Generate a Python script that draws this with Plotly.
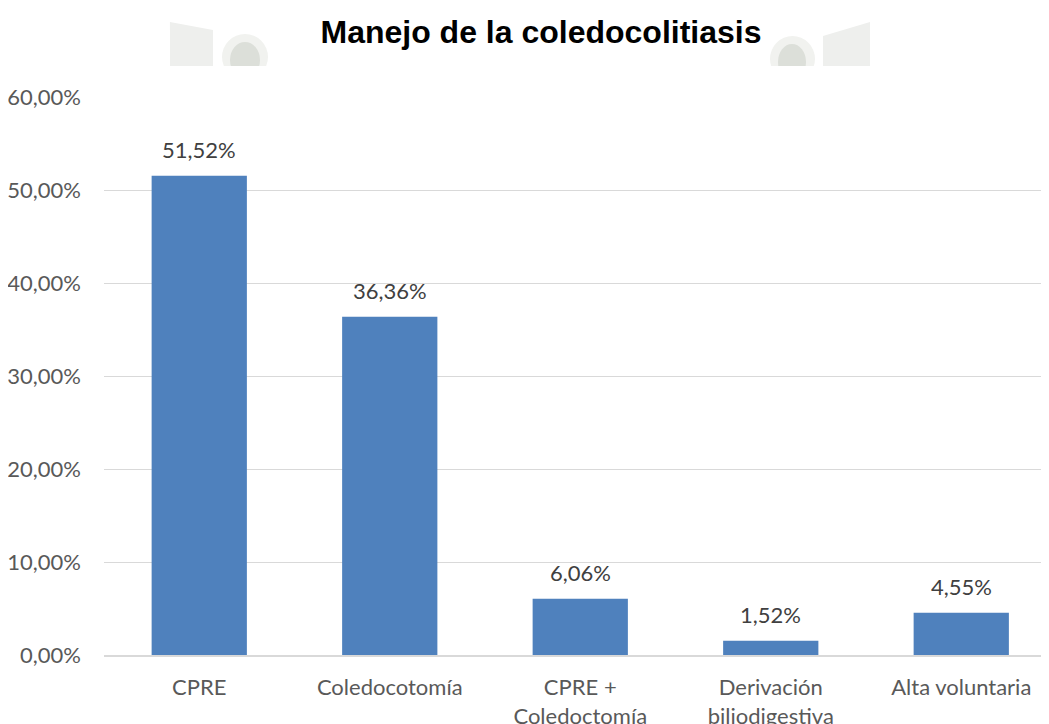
import plotly.graph_objects as go

categories = ["CPRE", "Coledocotomía", "CPRE +<br>Coledoctomía", "Derivación<br>biliodigestiva", "Alta voluntaria"]
values = [0.5152, 0.3636, 0.0606, 0.0152, 0.0455]
labels = ["51,52%", "36,36%", "6,06%", "1,52%", "4,55%"]
y_ticks = [0, 0.1, 0.2, 0.3, 0.4, 0.5, 0.6]
y_tick_text = ["0,00%", "10,00%", "20,00%", "30,00%", "40,00%", "50,00%", "60,00%"]

# page body has an 8px margin; figure coordinates are window coordinates minus 8
OFF = 8
W, H = 1049, 724
L, T = 104 - OFF, 97 - OFF
R = W - (1049 - OFF)
B = H - (655 - OFF)
pw, ph = W - L - R, H - T - B

def px(x):
    return (x - OFF - L) / pw

def py(y):
    return (H - B - (y - OFF)) / ph

FONT = "Lato, Open Sans, sans-serif"

fig = go.Figure()
fig.add_trace(go.Bar(
    x=list(range(len(categories))), y=values,
    marker=dict(color="#4f81bd", line=dict(width=0)),
    width=0.5,
))

for i, (v, t) in enumerate(zip(values, labels)):
    fig.add_annotation(x=i, y=v, text=t, showarrow=False, yanchor="middle", yshift=26,
                       font=dict(family=FONT, size=22, color="#404040"))

# faint watermark decorations behind title
shapes = []
def poly(pts, color):
    path = "M " + " L ".join(f"{px(x):.4f},{py(y):.4f}" for x, y in pts) + " Z"
    return dict(type="path", xref="paper", yref="paper", path=path, fillcolor=color, line=dict(width=0), layer="below")

def ell(x0, y0, x1, y1, color):
    return dict(type="circle", xref="paper", yref="paper", x0=px(x0), x1=px(x1), y0=py(y1), y1=py(y0),
                fillcolor=color, line=dict(width=0), layer="below")

shapes.append(poly([(170, 22), (213, 30), (213, 66), (170, 66)], "#eeefed"))
shapes.append(ell(222, 34, 268, 80, "#f1f2ef"))
shapes.append(ell(230, 42, 260, 78, "#dcdfd9"))
shapes.append(poly([(823, 36), (870, 22), (870, 66), (823, 66)], "#eeefed"))
shapes.append(ell(770, 36, 815, 82, "#f1f2ef"))
shapes.append(ell(778, 44, 806, 80, "#dcdfd9"))
shapes.append(dict(type="rect", xref="paper", yref="paper", x0=px(150), x1=px(900), y0=py(92), y1=py(66),
                   fillcolor="white", line=dict(width=0), layer="below"))
fig.update_layout(shapes=shapes)

fig.update_layout(
    width=W, height=H,
    margin=dict(l=L, r=R, t=T, b=B, autoexpand=False),
    paper_bgcolor="white", plot_bgcolor="rgba(0,0,0,0)",
    showlegend=False,
    title=dict(text="<b>Manejo de la coledocolitiasis</b>", x=px(541), xanchor="center", xref="paper",
               y=1 - (32 - OFF) / H, yanchor="middle",
               font=dict(family="Liberation Sans, Arial, sans-serif", size=32, color="black")),
    bargap=0.5,
)
fig.update_xaxes(
    tickmode="array", tickvals=list(range(len(categories))), ticktext=categories,
    range=[-0.5, -0.5 + pw / 190.5], automargin=False,
    showgrid=False, showline=True, linecolor="#d9d9d9", linewidth=2,
    ticks="", ticklabelstandoff=12,
    tickfont=dict(family=FONT, size=22, color="#595959"),
)
fig.update_yaxes(
    range=[0, 0.6], tickmode="array", tickvals=y_ticks, ticktext=y_tick_text, automargin=False,
    showgrid=True, gridcolor="#d9d9d9", gridwidth=1, zeroline=False,
    ticks="", ticklabelstandoff=22,
    tickfont=dict(family=FONT, size=22, color="#595959"),
)

fig.write_html("out.html")
